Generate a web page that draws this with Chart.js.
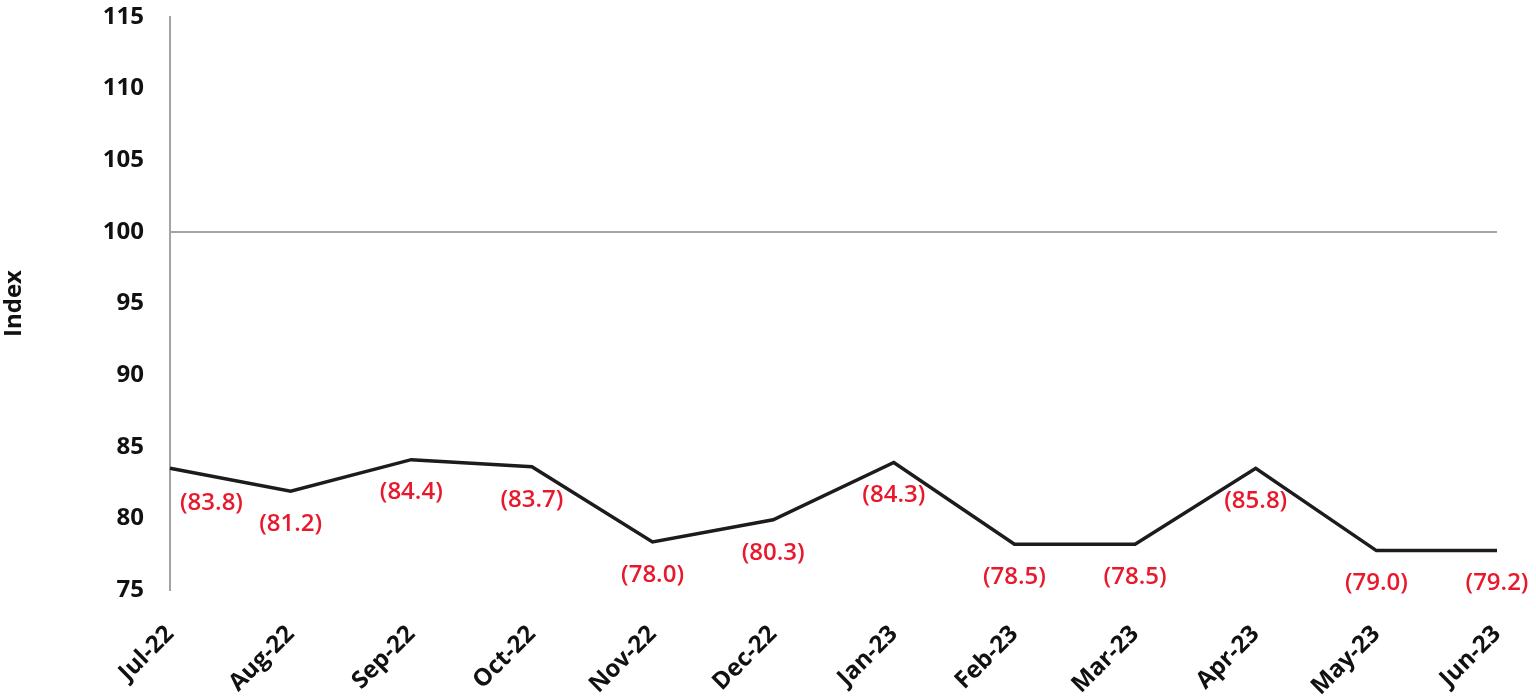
<!DOCTYPE html>
<html lang="en">
<head>
    <meta charset="UTF-8">
    <title>Index</title>
    <script src="https://cdn.jsdelivr.net/npm/chart.js@4.4.0/dist/chart.umd.min.js"></script>
    <style>
        html, body { margin: 0; padding: 0; background: #fff; }
        #wrap { width: 1536px; height: 699px; position: relative; }
    </style>
</head>
<body>
    <div id="wrap"><canvas id="myCanvas"></canvas></div>
    <script>
        // months on the x axis
        const months = ['Jul-22', 'Aug-22', 'Sep-22', 'Oct-22', 'Nov-22', 'Dec-22',
                        'Jan-23', 'Feb-23', 'Mar-23', 'Apr-23', 'May-23', 'Jun-23'];
        // plotted index values
        const indexValues = [83.5, 81.9, 84.1, 83.6, 78.35, 79.9, 83.9, 78.2, 78.2, 83.5, 77.75, 77.75];
        // red figures printed under each point
        const pointLabels = ['(83.8)', '(81.2)', '(84.4)', '(83.7)', '(78.0)', '(80.3)',
                             '(84.3)', '(78.5)', '(78.5)', '(85.8)', '(79.0)', '(79.2)'];
        // y axis
        const yMin = 75, yMax = 115, yStep = 5, refLine = 100;

        const FONT = '"Open Sans", "DejaVu Sans", sans-serif';

        const redLabels = {
            id: 'redLabels',
            afterDatasetsDraw(chart) {
                const ctx = chart.ctx;
                const meta = chart.getDatasetMeta(0);
                ctx.save();
                ctx.font = '600 24px ' + FONT;
                ctx.fillStyle = '#e8192c';
                ctx.textBaseline = 'middle';
                meta.data.forEach((pt, i) => {
                    if (i === 0) {
                        ctx.textAlign = 'left';
                        ctx.fillText(pointLabels[i], pt.x + 10, pt.y + 35);
                    } else {
                        ctx.textAlign = 'center';
                        ctx.fillText(pointLabels[i], pt.x, pt.y + 33);
                    }
                });
                ctx.restore();
            }
        };

        const ctx = document.getElementById('myCanvas').getContext('2d');
        let myChart = new Chart(ctx, {
            type: 'line',
            data: {
                labels: months,
                datasets: [{
                    label: 'Index',
                    data: indexValues,
                    borderColor: '#1c1c1c',
                    borderWidth: 3.5,
                    pointRadius: 0,
                    tension: 0,
                    fill: false
                }]
            },
            options: {
                responsive: true,
                maintainAspectRatio: false,
                animation: false,
                layout: { padding: 0 },
                plugins: {
                    legend: { display: false },
                    tooltip: { enabled: false }
                },
                scales: {
                    x: {
                        offset: false,
                        grid: { display: false, drawTicks: false },
                        border: { display: false },
                        ticks: {
                            color: '#111',
                            font: { family: FONT, size: 24, weight: '700' },
                            minRotation: 45,
                            maxRotation: 45,
                            padding: 30,
                            autoSkip: false
                        },
                        afterFit(scale) {
                            scale.height = 109;
                            scale.paddingLeft = 0;
                            scale.paddingRight = 39;
                        }
                    },
                    y: {
                        min: yMin,
                        max: yMax,
                        ticks: {
                            stepSize: yStep,
                            color: '#111',
                            font: { family: FONT, size: 24, weight: '700' },
                            padding: 26
                        },
                        grid: {
                            drawTicks: false,
                            lineWidth: 2,
                            color: (c) => (c.tick && c.tick.value === refLine) ? '#a3a3a3' : 'rgba(0,0,0,0)'
                        },
                        border: { display: true, color: '#a3a3a3', width: 2 },
                        title: {
                            display: true,
                            text: 'Index',
                            color: '#111',
                            font: { family: FONT, size: 24, weight: '700' },
                            padding: 0
                        },
                        afterFit(scale) {
                            scale.width = 170;
                            scale.paddingTop = 17;
                            scale.paddingBottom = 0;
                        }
                    }
                }
            },
            plugins: [redLabels]
        });
    </script>
</body>
</html>
